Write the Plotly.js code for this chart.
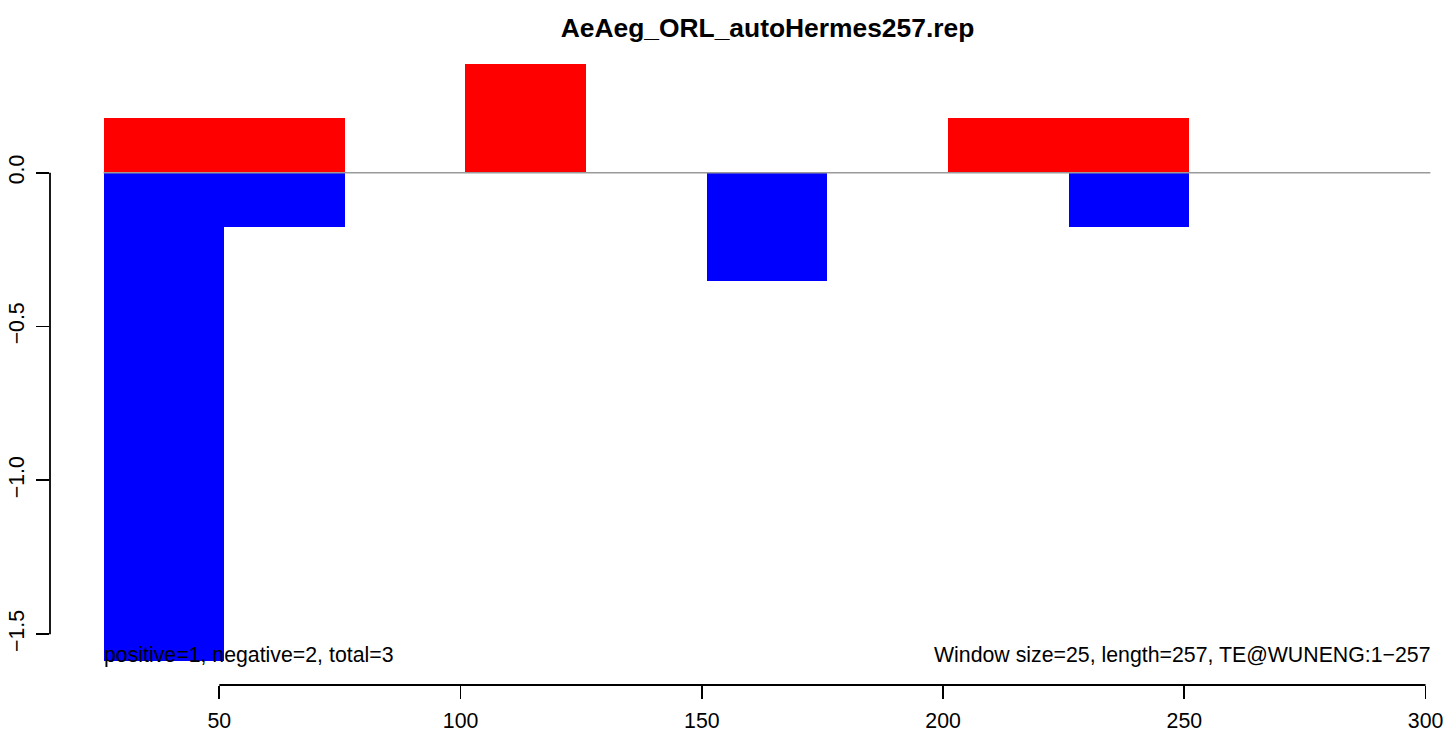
<!DOCTYPE html>
<html>
<head>
<meta charset="utf-8">
<script src="https://cdn.plot.ly/plotly-3.0.1.min.js"></script>
<style>html,body{margin:0;padding:0;background:#fff;}#chart{width:1449px;height:736px;}</style>
</head>
<body>
<div id="chart"></div>
<script>
// Window start positions (window size 25)
const windowStart = [26, 51, 76, 101, 126, 151, 176, 201, 226, 251, 276];
const windowSize = 25;
// Positive (red) and negative (blue) values per window
const positiveValues = [0.1765, 0.1765, 0, 0.353, 0, 0, 0, 0.1765, 0.1765, 0, 0];
const negativeValues = [-1.588, -0.1765, 0, 0, 0, -0.353, 0, 0, -0.1765, 0, 0];
// Axis ticks
const xTickVals = [50, 100, 150, 200, 250, 300];
const xTickText = ["50", "100", "150", "200", "250", "300"];
const yTickVals = [0, -0.5, -1, -1.5];
const yTickText = ["0.0", "\u22120.5", "\u22121.0", "\u22121.5"];
// Texts
const titleText = "AeAeg_ORL_autoHermes257.rep";
const leftNote = "positive=1, negative=2, total=3";
const rightNote = "Window size=25, length=257, TE@WUNENG:1\u2212257";

const FONT = "Liberation Sans, Arial, Helvetica, sans-serif";
const FS = 21.3;
const lineEnd = windowStart[windowStart.length - 1] + windowSize;

const traces = [
  {
    type: "scatter", mode: "lines",
    x: [windowStart[0], lineEnd], y: [0, 0],
    line: {color: "#9a9a9a", width: 1.6},
    hoverinfo: "skip", showlegend: false
  },
  {
    type: "bar", x: windowStart, y: positiveValues,
    width: windowSize, offset: 0,
    marker: {color: "#ff0000", line: {width: 0}},
    showlegend: false
  },
  {
    type: "bar", x: windowStart, y: negativeValues,
    width: windowSize, offset: 0,
    marker: {color: "#0000ff", line: {width: 0}},
    showlegend: false
  }
];

const layout = {
  width: 1449, height: 736,
  margin: {l: 50, r: 0, t: 40, b: 51, pad: 0},
  paper_bgcolor: "#ffffff", plot_bgcolor: "#ffffff",
  barmode: "overlay", bargap: 0,
  font: {family: FONT, size: FS, color: "#000"},
  title: {
    text: titleText,
    font: {family: FONT, size: 26.4, weight: "bold", color: "#000"},
    x: 767.5 / 1449, xref: "container", xanchor: "center",
    y: 1 - 28 / 736, yref: "container", yanchor: "middle"
  },
  xaxis: {
    range: [14.91, 304.86],
    tickmode: "array", tickvals: xTickVals, ticktext: xTickText,
    ticks: "outside", ticklen: 13, tickwidth: 1.8, tickcolor: "#000",
    ticklabelstandoff: 3,
    showline: false, showgrid: false, zeroline: false,
    tickfont: {family: FONT, size: FS, color: "#000"},
    fixedrange: true
  },
  yaxis: {
    range: [-1.665, 0.4313],
    tickmode: "array", tickvals: yTickVals, ticktext: yTickText,
    tickangle: -90,
    ticks: "outside", ticklen: 13, tickwidth: 1.8, tickcolor: "#000",
    ticklabelstandoff: 3,
    showline: false, showgrid: false, zeroline: false,
    tickfont: {family: FONT, size: FS, color: "#000"},
    fixedrange: true
  },
  shapes: [
    {type: "line", xref: "x", yref: "paper",
     x0: xTickVals[0], x1: xTickVals[xTickVals.length - 1], y0: 0, y1: 0,
     line: {color: "#000", width: 1.8}},
    {type: "line", xref: "paper", yref: "y",
     x0: 0, x1: 0, y0: yTickVals[0], y1: yTickVals[yTickVals.length - 1],
     line: {color: "#000", width: 1.8}}
  ],
  annotations: [
    {text: leftNote, xref: "x", yref: "y", x: windowStart[0], y: -1.567,
     xanchor: "left", yanchor: "middle", showarrow: false, xshift: -2,
     font: {family: FONT, size: FS, color: "#000"}},
    {text: rightNote, xref: "x", yref: "y", x: lineEnd, y: -1.567,
     xanchor: "right", yanchor: "middle", showarrow: false, xshift: 3,
     font: {family: FONT, size: FS, color: "#000"}}
  ]
};

Plotly.newPlot("chart", traces, layout, {staticPlot: true, displayModeBar: false});
</script>
</body>
</html>
